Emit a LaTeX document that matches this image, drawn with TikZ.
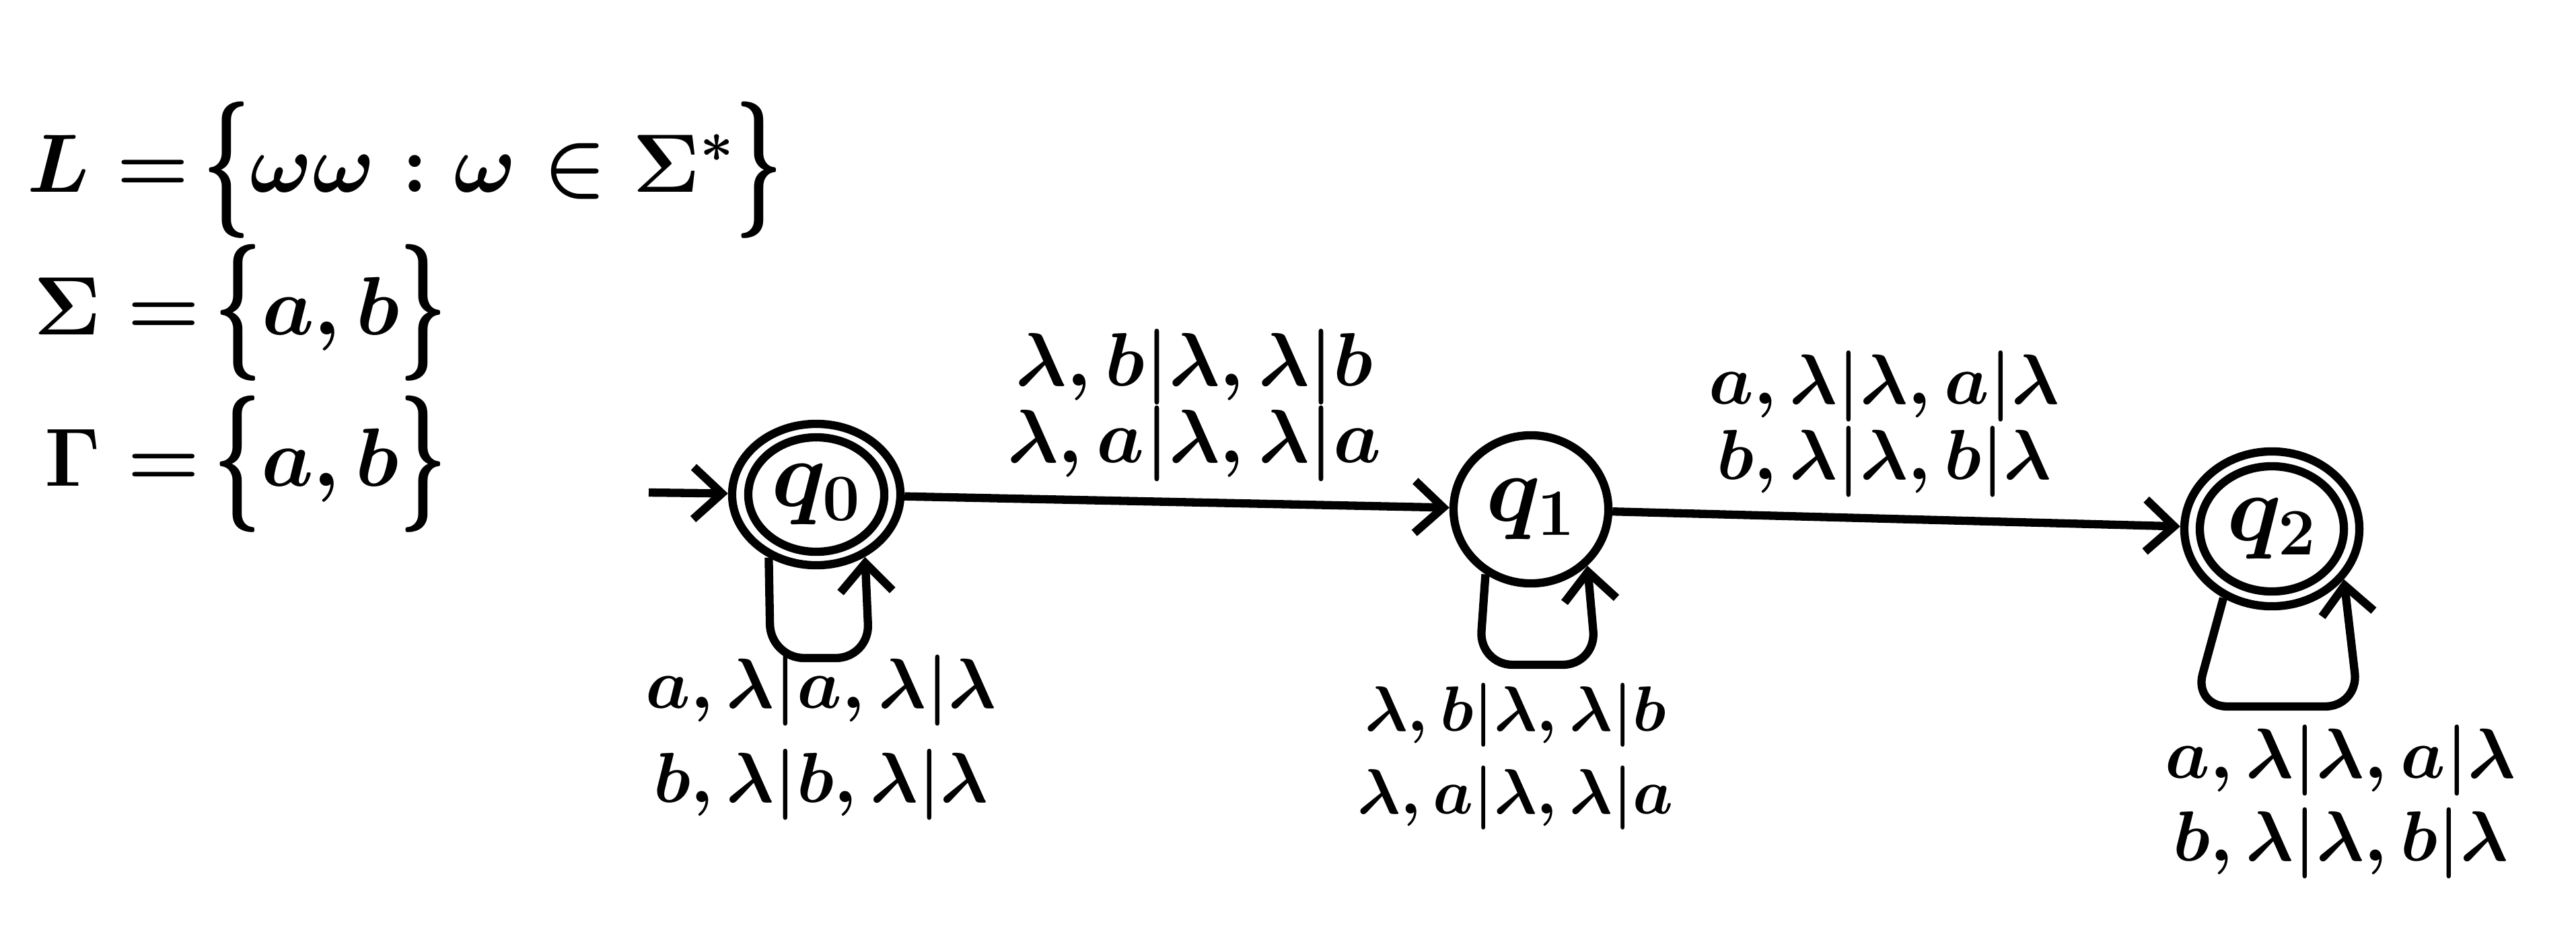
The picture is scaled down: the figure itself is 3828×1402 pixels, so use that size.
\RequirePackage{fix-cm}
\documentclass[tikz,border=0pt]{standalone}
\usepackage{graphicx}
\usetikzlibrary{arrows.meta,shapes.geometric}
\newcommand{\hbl}{\raisebox{-0.15em}{\scalebox{1}[1.65]{$\{$}}}
\newcommand{\hbr}{\raisebox{-0.15em}{\scalebox{1}[1.65]{$\}$}}}
\begin{document}
\begin{tikzpicture}[x=0.01cm, y=-0.01cm,
  statebox/.style={draw, ellipse, line width=3.5pt, inner sep=0pt},
  qtext/.style={font=\fontsize{40}{44}\selectfont\boldmath},
  lbl/.style={font=\fontsize{30}{34}\selectfont\boldmath, align=center, inner sep=0pt},
  hdr/.style={font=\fontsize{35}{42}\selectfont\boldmath, anchor=base west, inner sep=0pt},
  edge/.style={line width=3.5pt, -{Straight Barb[length=12pt,width=22pt]}},
  loopedge/.style={edge, rounded corners=0.5cm}]
\useasboundingbox (0,0) rectangle (3828,1402);
% header
\node[hdr] (hL) at (40,285) {$L = $\,\hbl$\omega\omega : \omega \in \Sigma^*$\hbr};
\node[hdr] (hS) at (50,497) {$\Sigma = $\,\hbl$a, b$\hbr};
\node[hdr] (hG) at (66,722) {$\Gamma = $\,\hbl$a, b$\hbr};
% states
\node[statebox, minimum width=2.50cm, minimum height=2.10cm] (q0) at (1213,735) {};
\node[statebox, minimum width=2.02cm, minimum height=1.70cm, qtext] (q0in) at (1213,735) {$q_0$};
\node[statebox, minimum width=2.30cm, minimum height=2.20cm, qtext] (q1) at (2275,757) {$q_1$};
\node[statebox, minimum width=2.60cm, minimum height=2.30cm] (q2) at (3376,786) {};
\node[statebox, minimum width=2.14cm, minimum height=1.86cm, qtext] (q2in) at (3376,786) {$q_2$};
% edges
\coordinate (init) at (964,732);
\draw[edge] (init) -- (q0);
\draw[edge] (q0) -- (q1);
\draw[edge] (q1) -- (q2);
\draw[loopedge] (q0.233) -- (1145,978) -- (1292,978) -- (q0.-52);
\draw[loopedge] (q1.235) -- (2198,988) -- (2372,988) -- (q1.-45);
\draw[loopedge] (q2.235) -- (3260,1050) -- (3505,1050) -- (q2.-35);
% labels
\node[lbl, font=\fontsize{32}{32.5}\selectfont\boldmath] (l01) at (1775,602) {$\lambda, b|\lambda, \lambda|b$\\$\lambda, a|\lambda, \lambda|a$};
\node[lbl, font=\fontsize{30}{32}\selectfont\boldmath] (l12) at (2800,630) {$a, \lambda|\lambda, a|\lambda$\\$b, \lambda|\lambda, b|\lambda$};
\node[lbl, font=\fontsize{30}{40}\selectfont\boldmath] (l00) at (1220,1096) {$a, \lambda|a, \lambda|\lambda$\\$b, \lambda|b, \lambda|\lambda$};
\node[lbl, font=\fontsize{27}{35}\selectfont\boldmath] (l11) at (2252,1124) {$\lambda, b|\lambda, \lambda|b$\\$\lambda, a|\lambda, \lambda|a$};
\node[lbl, font=\fontsize{30}{35}\selectfont\boldmath] (l22) at (3478,1192) {$a, \lambda|\lambda, a|\lambda$\\$b, \lambda|\lambda, b|\lambda$};
\end{tikzpicture}
\end{document}
